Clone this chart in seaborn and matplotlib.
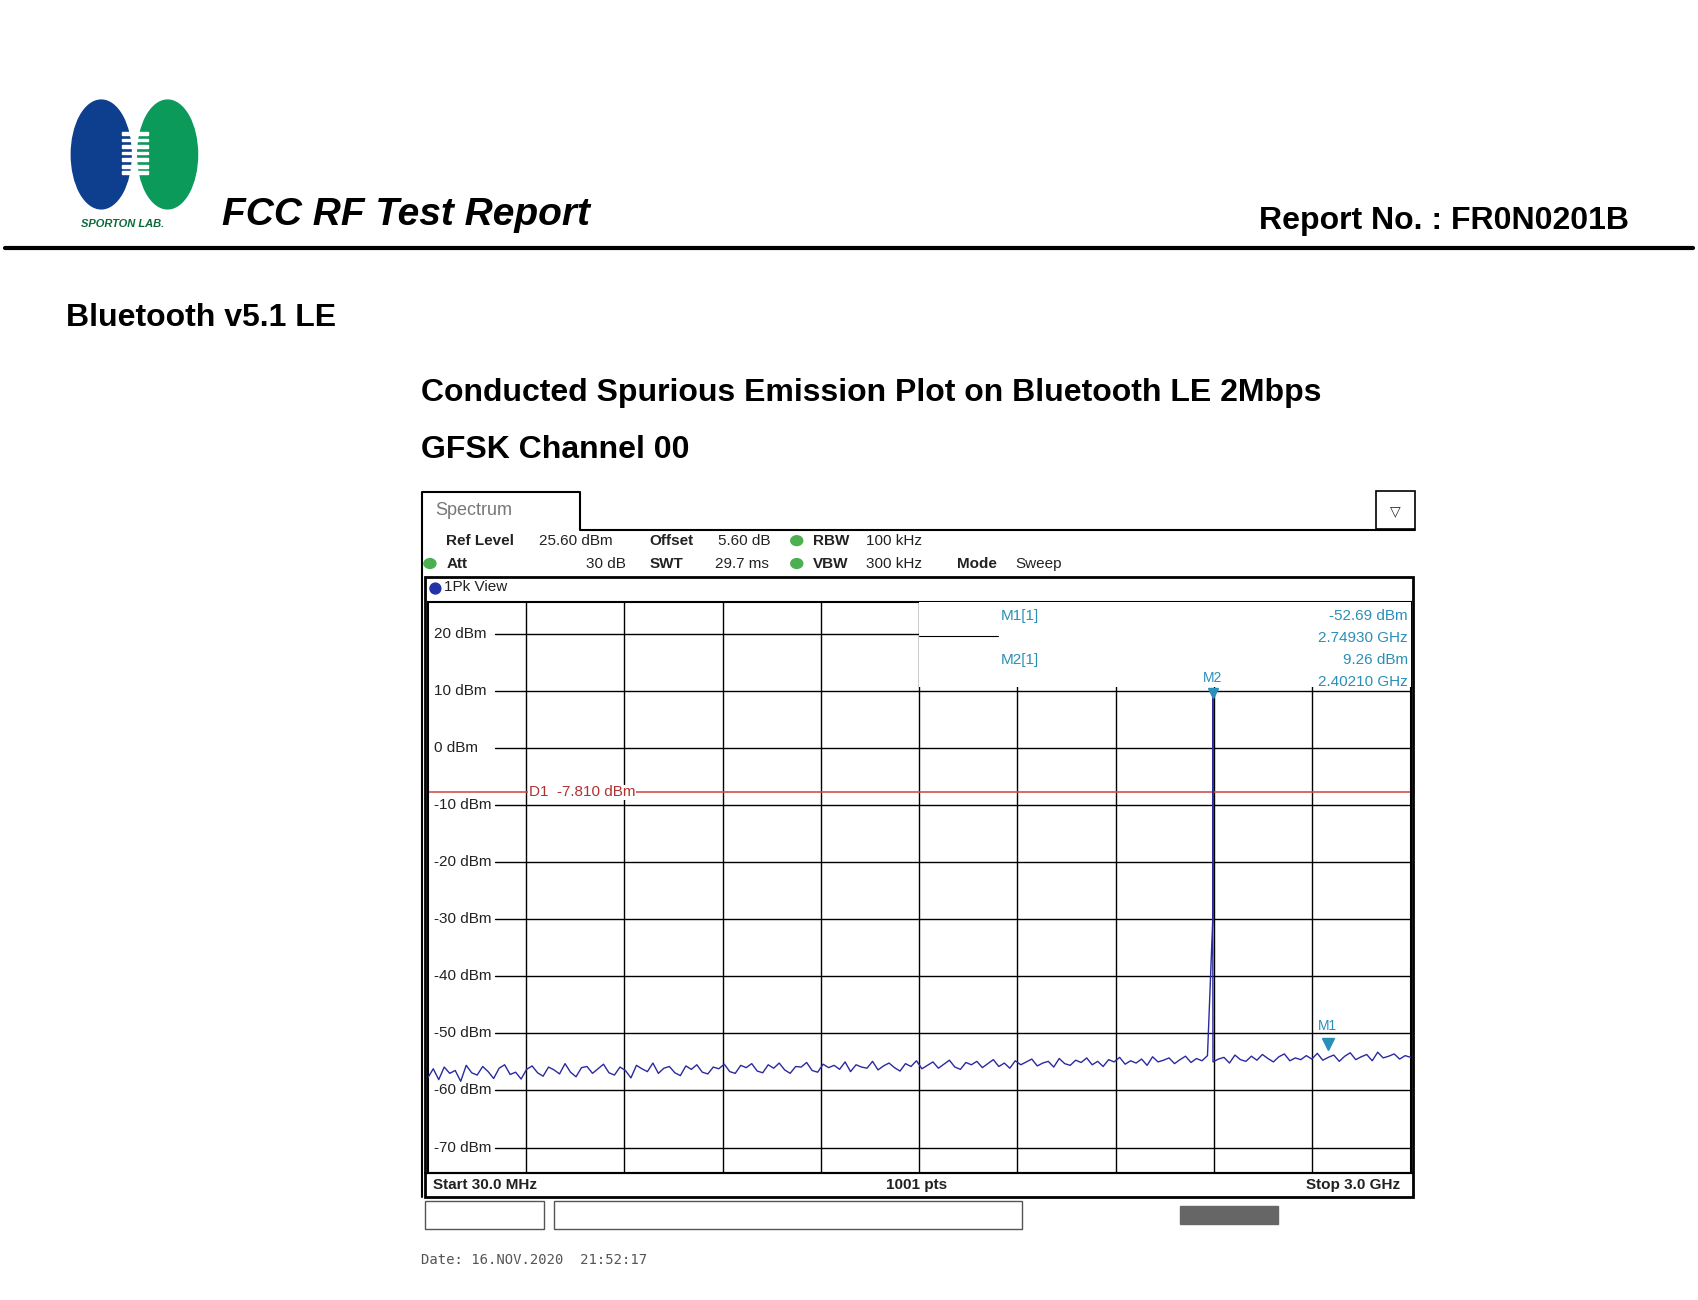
import matplotlib
matplotlib.use("Agg")
import matplotlib.pyplot as plt
import seaborn as sns
import numpy as np
import pandas as pd
from matplotlib.patches import Ellipse, Rectangle

sns.set_theme(style="white")
plt.rcParams['font.family'] = ['Liberation Sans', 'DejaVu Sans']

# ---- data ----
start_ghz = 0.03
stop_ghz = 3.0
noise_dbm = [
 -57.8,-56.2,-58.1,-55.9,-57.0,-56.5,-58.4,-55.6,-56.9,-57.3,-55.8,-56.7,-57.9,-56.1,-55.5,-57.2,-56.8,-58.0,-56.3,-55.7,
 -56.9,-57.5,-55.9,-56.4,-57.1,-55.3,-56.8,-57.6,-56.0,-55.8,-57.0,-56.2,-55.4,-56.9,-57.3,-55.9,-56.5,-57.8,-55.6,-56.2,
 -56.7,-55.2,-57.0,-56.1,-55.8,-56.9,-57.4,-55.7,-56.3,-55.5,-56.8,-57.1,-55.9,-56.2,-55.4,-56.7,-57.0,-55.6,-56.0,-55.3,
 -56.6,-56.9,-55.5,-56.1,-55.2,-56.4,-57.0,-55.8,-55.9,-55.1,-56.5,-56.8,-55.4,-56.0,-55.6,-56.3,-55.0,-56.7,-55.5,-55.9,
 -56.1,-54.9,-56.4,-55.7,-55.2,-56.0,-56.6,-55.3,-55.8,-54.8,-56.2,-55.6,-55.0,-56.1,-55.4,-54.7,-55.9,-56.3,-55.1,-55.5,
 -54.9,-56.0,-55.3,-54.6,-55.8,-55.2,-56.1,-54.8,-55.5,-55.0,-54.5,-55.7,-55.2,-54.9,-55.9,-54.4,-55.3,-55.6,-54.7,-55.1,
 -54.3,-55.5,-54.9,-55.8,-54.6,-55.0,-54.2,-55.4,-54.8,-55.2,-54.5,-55.6,-54.1,-55.0,-54.7,-54.3,-55.3,-54.6,-54.0,-55.1,
 -54.4,-54.8,-53.9,-55.0,-54.5,-54.2,-55.2,-53.8,-54.6,-54.9,-54.0,-54.7,-53.7,-54.4,-55.0,-54.1,-53.6,-54.8,-54.3,-54.6,
 -53.9,-54.5,-53.5,-54.7,-54.2,-53.8,-54.9,-54.0,-53.4,-54.6,-54.1,-53.7,-54.8,-53.3,-54.3,-54.0,-53.6,-54.5,-53.9,-54.2,
]
spike_ghz = 2.4021
spike_dbm = 9.26
m1_ghz = 2.7493
m1_dbm = -52.69
d1_dbm = -7.81
yticks = [20, 10, 0, -10, -20, -30, -40, -50, -60, -70]

freqs = np.linspace(start_ghz, stop_ghz, len(noise_dbm))
df = pd.DataFrame({"f": freqs, "p": noise_dbm})
spike_idx = int(np.searchsorted(freqs, spike_ghz))
spike_df = pd.DataFrame({"f": [spike_ghz, spike_ghz, spike_ghz],
                         "p": [-30.0, spike_dbm, -30.0]})
df = pd.concat([df[df.f < spike_ghz], spike_df, df[df.f > spike_ghz]]).reset_index(drop=True)

W, H = 1560, 1195
fig = plt.figure(figsize=(16.98, 13.0), dpi=100)
def fx(x): return x / W
def fy(y): return 1 - y / H

# header
fig.patches.append(Ellipse((fx(93), fy(142)), 55/W, 100/H, color="#0d3f8e", transform=fig.transFigure))
fig.patches.append(Ellipse((fx(154), fy(142)), 55/W, 100/H, color="#0c9a5a", transform=fig.transFigure))
for yy in range(124, 164, 6):
    fig.patches.append(Rectangle((fx(112), fy(yy)), 24/W, 2.5/H, color="white", transform=fig.transFigure))
fig.text(fx(74), fy(206), "SPORTON LAB.", fontsize=8, fontweight="bold", style="italic", color="#0a6a3a", va="center")
fig.text(fx(204), fy(198), "FCC RF Test Report", fontsize=28, fontweight="bold", style="italic", va="center", color="black")
fig.text(fx(1497), fy(203), "Report No. : FR0N0201B", fontsize=23, fontweight="bold", va="center", ha="right", color="black")
fig.add_artist(plt.Line2D([fx(5), fx(1555)], [fy(228), fy(228)], color="black", lw=3, transform=fig.transFigure))
fig.text(fx(61), fy(292), "Bluetooth v5.1 LE", fontsize=23, fontweight="bold", va="center", color="black")
fig.text(fx(387), fy(361), "Conducted Spurious Emission Plot on Bluetooth LE 2Mbps", fontsize=23, fontweight="bold", va="center", color="black")
fig.text(fx(387), fy(414), "GFSK Channel 00", fontsize=23, fontweight="bold", va="center", color="black")

# instrument frame
fig.add_artist(plt.Line2D([fx(388), fx(388), fx(533), fx(533), fx(1300)],
                          [fy(1100), fy(452), fy(452), fy(487), fy(487)], color="black", lw=1.5, transform=fig.transFigure))
fig.text(fx(400), fy(469), "Spectrum", fontsize=13, color="#777777", va="center")
fig.patches.append(Rectangle((fx(1264), fy(486)), 36/W, 35/H, fill=False, ec="black", lw=1.2, transform=fig.transFigure))
fig.text(fx(1282), fy(470), "▽", fontsize=10, ha="center", va="center")
hfs = 11
def hdr(x, y, s, bold=False, ha="left"):
    fig.text(fx(x), fy(y), s, fontsize=hfs, fontweight="bold" if bold else "normal", ha=ha, va="center", color="#222222")
hdr(410, 497, "Ref Level", True); hdr(495, 497, "25.60 dBm")
hdr(597, 497, "Offset", True); hdr(660, 497, "5.60 dB")
hdr(747, 497, "RBW", True); hdr(796, 497, "100 kHz")
hdr(410, 518, "Att", True); hdr(575, 518, "30 dB", ha="right")
hdr(597, 518, "SWT", True); hdr(657, 518, "29.7 ms")
hdr(747, 518, "VBW", True); hdr(796, 518, "300 kHz")
hdr(879, 518, "Mode", True); hdr(933, 518, "Sweep")
for (x, y) in [(732, 497), (732, 518), (395, 518)]:
    fig.patches.append(Ellipse((fx(x), fy(y)), 11/W, 9/H, color="#4caf50", transform=fig.transFigure))
fig.patches.append(Rectangle((fx(390), fy(1100)), 908/W, 570/H, fill=False, ec="black", lw=2, transform=fig.transFigure))
fig.patches.append(Ellipse((fx(400), fy(541)), 10/W, 10/H, color="#2233aa", transform=fig.transFigure))
hdr(408, 540, "1Pk View")

# axes
ax = fig.add_axes([fx(393), fy(1078), (1296-393)/W, (1078-553)/H])
ax.set_xlim(start_ghz, stop_ghz)
ax.set_ylim(-74.4, 25.6)
for v in np.linspace(start_ghz, stop_ghz, 11)[1:-1]:
    ax.axvline(v, color="black", lw=1)
for v in yticks:
    ax.axhline(v, xmin=0.068, color="black", lw=1)
    ax.text(0.006, v, f"{v} dBm", transform=ax.get_yaxis_transform(), fontsize=11, va="center", color="#222222")
ax.set_xticks([]); ax.set_yticks([])
for s in ax.spines.values():
    s.set_color("black"); s.set_linewidth(1.5)
ax.axhline(d1_dbm, color="#d05050", lw=1.2)
ax.text(0.103, d1_dbm, "D1  -7.810 dBm", transform=ax.get_yaxis_transform(), fontsize=11, color="#b03030", va="center",
        bbox=dict(fc="white", ec="none", pad=0.5))
sns.lineplot(data=df, x="f", y="p", ax=ax, color="#2a2aa0", lw=1, estimator=None, sort=False, zorder=4)
ax.set_xlabel(""); ax.set_ylabel("")
# marker info box (covers grid above the 10 dBm line on right half)
ax.add_patch(Rectangle((0.5, 10.6), 0.5, 16, transform=ax.get_yaxis_transform(), fc="white", ec="none", zorder=3))
mc = "#2a8fb8"
ax.text(0.583, 0.975, "M1[1]", transform=ax.transAxes, color=mc, fontsize=11, va="center", zorder=5)
ax.text(0.583, 0.898, "M2[1]", transform=ax.transAxes, color=mc, fontsize=11, va="center", zorder=5)
ax.plot([0.5, 0.58], [0.94, 0.94], transform=ax.transAxes, color="black", lw=0.8, zorder=5)
for yv, s in [(0.975, f"{m1_dbm:.2f} dBm"), (0.937, f"{m1_ghz:.5f} GHz"), (0.898, f"{spike_dbm:.2f} dBm"), (0.86, f"{spike_ghz:.5f} GHz")]:
    ax.text(0.997, yv, s, transform=ax.transAxes, color=mc, fontsize=11, va="center", ha="right", zorder=5)
ax.plot([spike_ghz], [spike_dbm + 0.3], marker="v", color=mc, ms=7, zorder=6)
ax.text(spike_ghz, spike_dbm + 2.2, "M2", color=mc, fontsize=10, ha="center", zorder=6)
ax.plot([m1_ghz], [m1_dbm + 0.8], marker="v", color=mc, ms=8, zorder=6)
ax.text(m1_ghz, m1_dbm + 3.2, "M1", color=mc, fontsize=10, ha="center", zorder=6)

# footer
fig.add_artist(plt.Line2D([fx(390), fx(1298)], [fy(1078), fy(1078)], color="black", lw=1.5, transform=fig.transFigure))
hdr(398, 1089, "Start 30.0 MHz", True); hdr(842, 1089, "1001 pts", True, "center"); hdr(1286, 1089, "Stop 3.0 GHz", True, "right")
fig.patches.append(Rectangle((fx(390), fy(1130)), 110/W, 26/H, fill=False, ec="#555555", lw=1, transform=fig.transFigure))
fig.patches.append(Rectangle((fx(509), fy(1130)), 430/W, 26/H, fill=False, ec="#555555", lw=1, transform=fig.transFigure))
fig.patches.append(Rectangle((fx(1084), fy(1125)), 90/W, 16/H, color="#666666", transform=fig.transFigure))
fig.text(fx(387), fy(1158), "Date: 16.NOV.2020  21:52:17", fontsize=10, family="DejaVu Sans Mono", color="#555555", va="center")

fig.savefig("out.png", dpi=100)
